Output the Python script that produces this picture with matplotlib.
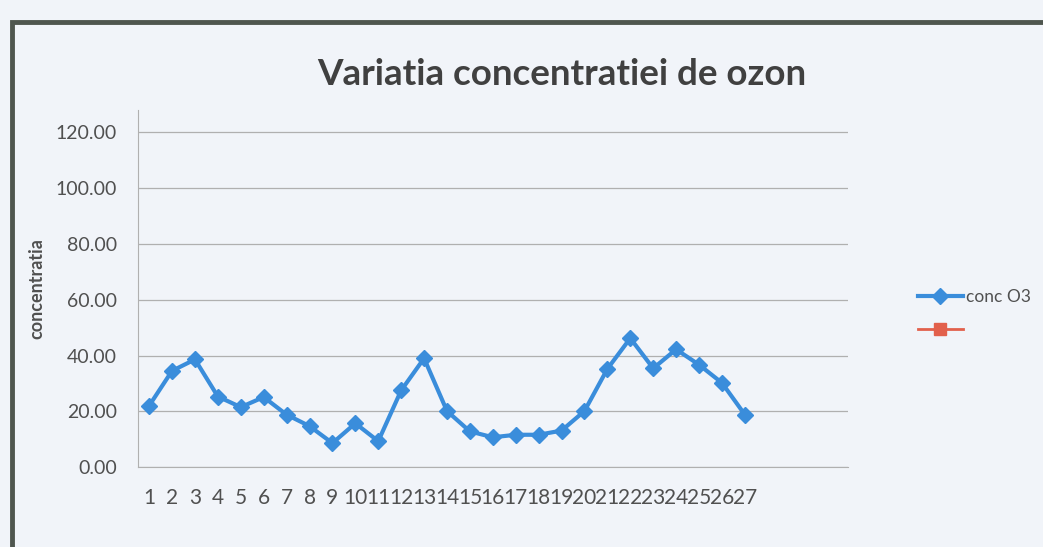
import matplotlib.pyplot as plt
import matplotlib.patches as mpatches
import numpy as np

# valori
zile = list(range(1, 28))
conc_o3 = [22.0, 34.5, 38.6, 25.3, 21.5, 25.1, 18.8, 14.7, 8.6, 15.7, 9.3, 27.5, 39.0, 20.1,
           12.8, 10.7, 11.6, 11.6, 13.1, 20.1, 35.2, 46.2, 35.4, 42.2, 36.7, 30.2, 18.8]
yticks = [0, 20, 40, 60, 80, 100, 120]

plt.rcParams['font.family'] = ['Lato', 'DejaVu Sans']

bg = '#f1f4f9'
txt = '#505050'

fig = plt.figure(figsize=(10.43, 5.47), dpi=100, facecolor=bg)
ax = fig.add_axes([0.132, 0.146, 0.681, 0.653])
ax.set_facecolor(bg)

# chenarul graficului (scanat)
fig.patches.append(mpatches.Rectangle((12/1043, -0.05), 1.1, 1 - 22/547 + 0.05,
                                      transform=fig.transFigure, fill=False,
                                      edgecolor='#4f564f', linewidth=3.5))

ax.plot(zile, conc_o3, color='#3a8ddb', linewidth=3, marker='D', markersize=8.5,
        label='conc O3')
ax.plot([], [], color='#e2604c', linewidth=2, marker='s', markersize=8, label=' ')

ax.set_xlim(0.5, 31.5)
ax.set_ylim(0, 128)
ax.set_yticks(yticks)
ax.set_yticklabels(['%.2f' % v for v in yticks])
ax.set_xticks(zile)
ax.set_xticklabels([str(z) for z in zile])
ax.grid(axis='y', color='#b0b0b0', linewidth=0.9)
ax.set_axisbelow(True)
for s in ['top', 'right']:
    ax.spines[s].set_visible(False)
for s in ['left', 'bottom']:
    ax.spines[s].set_color('#b0b0b0')
ax.tick_params(axis='both', length=0, colors=txt, labelsize=14)
ax.tick_params(axis='x', pad=15)
ax.tick_params(axis='y', pad=15)
for lab in ax.get_xticklabels():
    lab.set_fontfamily('Lato')
    lab.set_fontsize(15)

ax.set_ylabel('concentratia', fontsize=13, fontweight='bold', color=txt)
ax.yaxis.set_label_coords(-0.13, 0.5)

fig.text(0.539, 0.863, 'Variatia concentratiei de ozon', ha='center', va='center',
         fontsize=26.5, fontweight='bold', color='#404040')

leg = fig.legend(loc='upper left', bbox_to_anchor=(0.865, 0.5), frameon=False,
                 fontsize=12.5, handlelength=2.6, labelspacing=1.0, handletextpad=0.2,
                 labelcolor=txt)

fig.savefig('out.png', dpi=100, facecolor=bg)
